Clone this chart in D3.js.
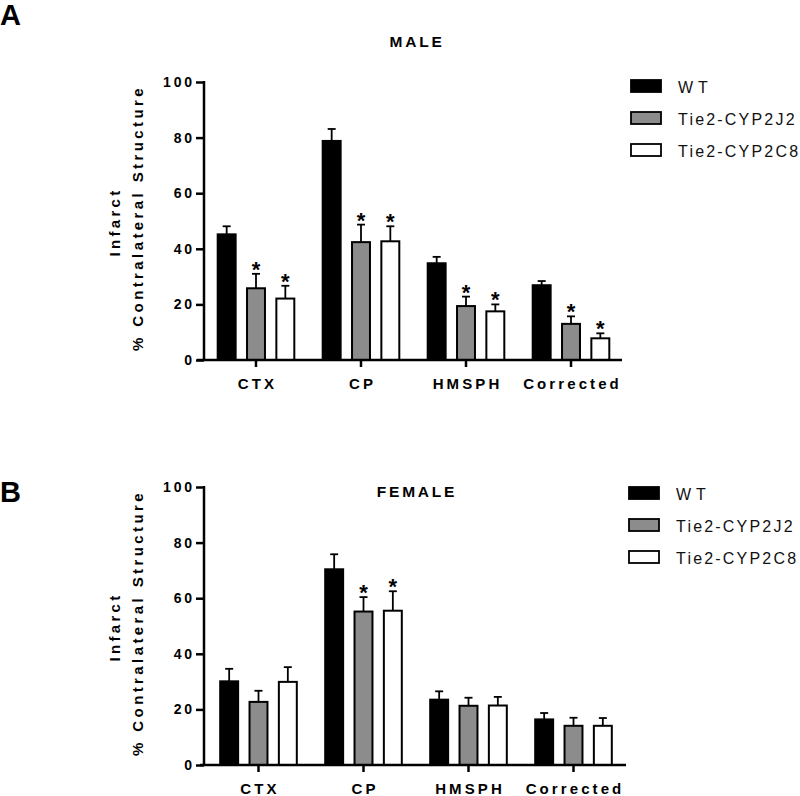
<!DOCTYPE html>
<html>
<head>
<meta charset="utf-8">
<script src="https://cdn.jsdelivr.net/npm/d3@7"></script>
<style>
  body { margin: 0; background: #fff; }
  svg { display: block; }
  text { font-family: "Liberation Sans", Arial, sans-serif; }
</style>
</head>
<body>
<svg id="chart" width="800" height="796"></svg>
<script>
// ---- Data ----
const categories = ["CTX", "CP", "HMSPH", "Corrected"];
const seriesNames = ["WT", "Tie2-CYP2J2", "Tie2-CYP2C8"];
const seriesFills = ["#000000", "#8c8c8c", "#ffffff"];
const yTicks = [0, 20, 40, 60, 80, 100];

// MALE (panel A): means and SEM
const maleWT = [45.2, 78.8, 34.8, 26.9];
const maleWTSem = [2.9, 4.3, 2.3, 1.5];
const male2J2 = [25.8, 42.4, 19.4, 13.0];
const male2J2Sem = [5.2, 6.3, 3.4, 2.7];
const male2C8 = [22.1, 42.7, 17.5, 7.8];
const male2C8Sem = [4.6, 5.4, 2.5, 1.8];
const maleSigWT = [0, 0, 0, 0];
const maleSig2J2 = [1, 1, 1, 1];
const maleSig2C8 = [1, 1, 1, 1];

// FEMALE (panel B)
const femaleWT = [30.1, 70.4, 23.5, 16.4];
const femaleWTSem = [4.5, 5.4, 3.0, 2.3];
const female2J2 = [22.7, 55.2, 21.3, 14.1];
const female2J2Sem = [4.0, 5.2, 2.9, 2.9];
const female2C8 = [29.9, 55.5, 21.4, 14.1];
const female2C8Sem = [5.3, 7.0, 3.1, 2.8];
const femaleSigWT = [0, 0, 0, 0];
const femaleSig2J2 = [0, 1, 0, 0];
const femaleSig2C8 = [0, 1, 0, 0];

const svg = d3.select("#chart");

function buildRows(means, sems, sigs) {
  const rows = [];
  categories.forEach((c, i) => {
    seriesNames.forEach((s, j) => {
      rows.push({ cat: c, series: s, idx: j, value: means[j][i], sem: sems[j][i], sig: sigs[j][i] });
    });
  });
  return rows;
}

function drawPanel(cfg) {
  const g = svg.append("g");
  const y = d3.scaleLinear().domain([0, 100]).range([cfg.y0, cfg.y100]);
  const x0 = d3.scaleBand().domain(categories).range([cfg.xBandStart, cfg.xBandStart + 420]).padding(0);
  const x1 = d3.scaleBand().domain(seriesNames).range([-44, 44]).paddingInner(0.32).paddingOuter(0.16);
  const rows = buildRows(cfg.means, cfg.sems, cfg.sigs);

  // panel letter
  g.append("text").attr("x", 0).attr("y", cfg.letterY)
    .attr("font-size", 29).attr("font-weight", "bold").text(cfg.letter);

  // title
  g.append("text").attr("x", 417).attr("y", cfg.titleY)
    .attr("text-anchor", "middle").attr("font-size", 15.5).attr("font-weight", "bold")
    .attr("letter-spacing", 2.8).text(cfg.title);

  // bars
  const bw = x1.bandwidth() - 2;
  const bars = g.append("g");
  rows.forEach(d => {
    const cx = x0(d.cat) + x0.bandwidth() / 2 + x1(d.series) + x1.bandwidth() / 2;
    const top = y(d.value);
    const errTop = y(d.value + d.sem);
    // error bar (upper only)
    bars.append("line").attr("x1", cx).attr("x2", cx).attr("y1", top).attr("y2", errTop)
      .attr("stroke", "#000").attr("stroke-width", 1.8);
    bars.append("line").attr("x1", cx - 4).attr("x2", cx + 4).attr("y1", errTop).attr("y2", errTop)
      .attr("stroke", "#000").attr("stroke-width", 1.8);
    bars.append("rect").attr("x", cx - bw / 2).attr("y", top)
      .attr("width", bw).attr("height", y(0) - top)
      .attr("fill", seriesFills[d.idx]).attr("stroke", "#000").attr("stroke-width", 2);
    if (d.sig) {
      bars.append("text").attr("x", cx).attr("y", errTop + 3)
        .attr("text-anchor", "middle").attr("font-size", 22).attr("font-weight", "bold").text("*");
    }
  });

  // y axis
  const yAxis = d3.axisLeft(y).tickValues(yTicks).tickSize(8).tickPadding(4);
  const ya = g.append("g").attr("transform", `translate(${cfg.yAxisX},0)`).call(yAxis);
  ya.select(".domain").attr("stroke-width", 2.5).attr("d", `M0,${cfg.y100 - 1}V${cfg.y0}`);
  ya.selectAll(".tick line").attr("stroke-width", 2.5);
  ya.selectAll(".tick text").attr("font-size", 14).attr("font-weight", "bold")
    .attr("font-family", "Liberation Sans, Arial, sans-serif")
    .attr("letter-spacing", 2.8).attr("dx", 2.8).attr("fill", "#000");

  // x axis
  const xAxis = d3.axisBottom(x0).tickSize(7).tickPadding(11);
  const xa = g.append("g").attr("transform", `translate(0,${cfg.y0})`).call(xAxis);
  xa.select(".domain").attr("stroke-width", 2.5).attr("d", `M${cfg.xAxisStart},0H${cfg.xAxisEnd}`);
  xa.selectAll(".tick line").attr("stroke-width", 2.5);
  xa.selectAll(".tick text").attr("font-size", 15).attr("font-weight", "bold")
    .attr("font-family", "Liberation Sans, Arial, sans-serif")
    .attr("letter-spacing", 3.1).attr("dx", 1.5).attr("fill", "#000");

  // y labels
  const midY = (cfg.y0 + cfg.y100) / 2;
  g.append("text").attr("transform", `translate(${cfg.yAxisX - 84},${midY + 1}) rotate(-90)`)
    .attr("text-anchor", "middle").attr("font-size", 15).attr("font-weight", "bold")
    .attr("letter-spacing", 3.3).text("Infarct");
  g.append("text").attr("transform", `translate(${cfg.yAxisX - 61},${midY - 3}) rotate(-90)`)
    .attr("text-anchor", "middle").attr("font-size", 15).attr("font-weight", "bold")
    .attr("letter-spacing", 3.4).text("% Contralateral Structure");

  // legend
  const lg = g.append("g").attr("transform", `translate(${cfg.legX},${cfg.legY})`);
  seriesNames.forEach((s, j) => {
    const row = lg.append("g").attr("transform", `translate(0,${j * 32})`);
    row.append("rect").attr("x", 0).attr("y", 0).attr("width", 30).attr("height", 12)
      .attr("fill", seriesFills[j]).attr("stroke", "#000").attr("stroke-width", 1.8);
    row.append("text").attr("x", 47).attr("y", 12.5).attr("font-size", 16)
      .attr("letter-spacing", j === 0 ? 5 : 2.2).attr("fill", "#111").text(s);
  });
}

drawPanel({
  letter: "A", letterY: 25, title: "MALE", titleY: 47,
  means: [maleWT, male2J2, male2C8], sems: [maleWTSem, male2J2Sem, male2C8Sem],
  sigs: [maleSigWT, maleSig2J2, maleSig2C8],
  y0: 360, y100: 82, yAxisX: 204, xBandStart: 203.5, xAxisStart: 197, xAxisEnd: 622,
  legX: 631, legY: 80
});

drawPanel({
  letter: "B", letterY: 502, title: "FEMALE", titleY: 497,
  means: [femaleWT, female2J2, female2C8], sems: [femaleWTSem, female2J2Sem, female2C8Sem],
  sigs: [femaleSigWT, femaleSig2J2, femaleSig2C8],
  y0: 765, y100: 487, yAxisX: 204, xBandStart: 206, xAxisStart: 200, xAxisEnd: 626,
  legX: 629, legY: 487
});
</script>
</body>
</html>
